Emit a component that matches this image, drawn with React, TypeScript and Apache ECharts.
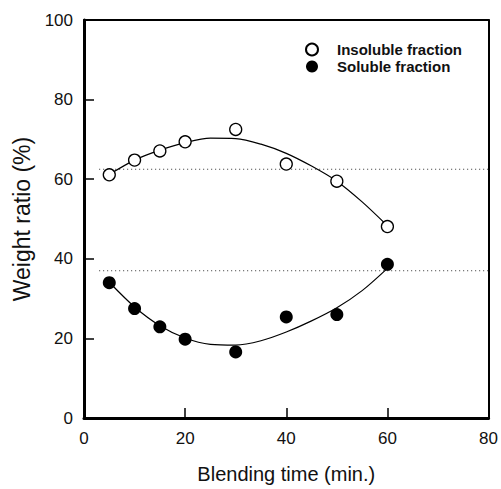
import React, { useEffect, useRef } from "react";
import * as echarts from "echarts";

const timePoints = [5, 10, 15, 20, 30, 40, 50, 60];
const insolubleValues = [61.1, 64.8, 67.1, 69.4, 72.5, 63.8, 59.5, 48.1];
const solubleValues = [34.0, 27.5, 22.9, 19.8, 16.6, 25.4, 26.0, 38.6];

const fitTimes = [5, 10, 15, 20, 25, 30, 35, 40, 45, 50, 55, 60];
const insolubleFit = [61.2, 64.8, 67.3, 69.2, 70.3, 70.2, 68.8, 66.5, 63.3, 59.5, 54.3, 48.3];
const solubleFit = [34.1, 27.9, 23.2, 20.1, 18.5, 18.3, 19.4, 21.6, 24.4, 27.7, 32.0, 37.6];

const refLineStart = 3;
const refLineEnd = 80;
const insolubleRef = 62.5;
const solubleRef = 37.0;

const xTicks = [0, 20, 40, 60, 80];
const yTicks = [0, 20, 40, 60, 80, 100];

const FONT = "'Liberation Sans', Arial, Helvetica, sans-serif";

export default function App() {
  const ref = useRef<HTMLDivElement>(null);

  useEffect(() => {
    if (!ref.current) return;
    const chart = echarts.init(ref.current, undefined, { renderer: "svg" });
    const pair = (xs: number[], ys: number[]) => xs.map((x, i) => [x, ys[i]]);

    chart.setOption({
      animation: false,
      backgroundColor: "#ffffff",
      grid: { left: 84, top: 20, right: 11, bottom: 66, containLabel: false },
      legend: {
        data: ["Insoluble fraction", "Soluble fraction"],
        orient: "vertical",
        left: 300,
        top: 37,
        itemWidth: 12,
        itemHeight: 12,
        itemGap: 2,
        textStyle: {
          fontFamily: FONT,
          fontSize: 15,
          fontWeight: "bold",
          color: "#111",
          padding: [0, 0, 0, 14],
        },
      },
      xAxis: [
        {
          type: "value",
          min: xTicks[0],
          max: xTicks[xTicks.length - 1],
          interval: 20,
          position: "bottom",
          name: "Blending time (min.)",
          nameLocation: "middle",
          nameGap: 46,
          nameTextStyle: { fontFamily: FONT, fontSize: 20, color: "#111" },
          axisLine: { lineStyle: { color: "#000", width: 3 } },
          axisTick: { inside: true, length: 10, lineStyle: { color: "#000", width: 1.5 } },
          axisLabel: { fontFamily: FONT, fontSize: 17, color: "#111", margin: 12 },
          splitLine: { show: false },
        },
        {
          type: "value",
          min: xTicks[0],
          max: xTicks[xTicks.length - 1],
          position: "top",
          axisLine: { show: true, onZero: false, lineStyle: { color: "#000", width: 2 } },
          axisTick: { show: false },
          axisLabel: { show: false },
          splitLine: { show: false },
        },
      ],
      yAxis: [
        {
          type: "value",
          min: yTicks[0],
          max: yTicks[yTicks.length - 1],
          interval: 20,
          position: "left",
          name: "Weight ratio (%)",
          nameLocation: "middle",
          nameGap: 50,
          nameTextStyle: { fontFamily: FONT, fontSize: 23, color: "#111" },
          axisLine: { show: true, lineStyle: { color: "#000", width: 3 } },
          axisTick: { show: true, inside: true, length: 10, lineStyle: { color: "#000", width: 1.5 } },
          axisLabel: { fontFamily: FONT, fontSize: 17, color: "#111", margin: 11 },
          splitLine: { show: false },
        },
        {
          type: "value",
          min: yTicks[0],
          max: yTicks[yTicks.length - 1],
          position: "right",
          axisLine: { show: true, onZero: false, lineStyle: { color: "#000", width: 2 } },
          axisTick: { show: false },
          axisLabel: { show: false },
          splitLine: { show: false },
        },
      ],
      series: [
        {
          name: "insoluble-ref",
          type: "line",
          data: [[refLineStart, insolubleRef], [refLineEnd, insolubleRef]],
          symbol: "none",
          lineStyle: { color: "#333", width: 1, type: [1, 3] },
          silent: true,
        },
        {
          name: "soluble-ref",
          type: "line",
          data: [[refLineStart, solubleRef], [refLineEnd, solubleRef]],
          symbol: "none",
          lineStyle: { color: "#333", width: 1, type: [1, 3] },
          silent: true,
        },
        {
          name: "insoluble-fit",
          type: "line",
          data: pair(fitTimes, insolubleFit),
          symbol: "none",
          smooth: 0.3,
          lineStyle: { color: "#000", width: 1.2 },
        },
        {
          name: "soluble-fit",
          type: "line",
          data: pair(fitTimes, solubleFit),
          symbol: "none",
          smooth: 0.3,
          lineStyle: { color: "#000", width: 1.2 },
        },
        {
          name: "Insoluble fraction",
          type: "scatter",
          data: pair(timePoints, insolubleValues),
          symbol: "circle",
          symbolSize: 12,
          itemStyle: { color: "#fff", borderColor: "#000", borderWidth: 1.3, opacity: 1 },
          z: 5,
        },
        {
          name: "Soluble fraction",
          type: "scatter",
          data: pair(timePoints, solubleValues),
          symbol: "circle",
          symbolSize: 13,
          itemStyle: { color: "#000", borderColor: "#000", borderWidth: 0, opacity: 1 },
          z: 5,
        },
      ],
    });

    return () => chart.dispose();
  }, []);

  return <div ref={ref} style={{ width: 501, height: 489, position: "absolute", left: 0, top: 0 }} />;
}
